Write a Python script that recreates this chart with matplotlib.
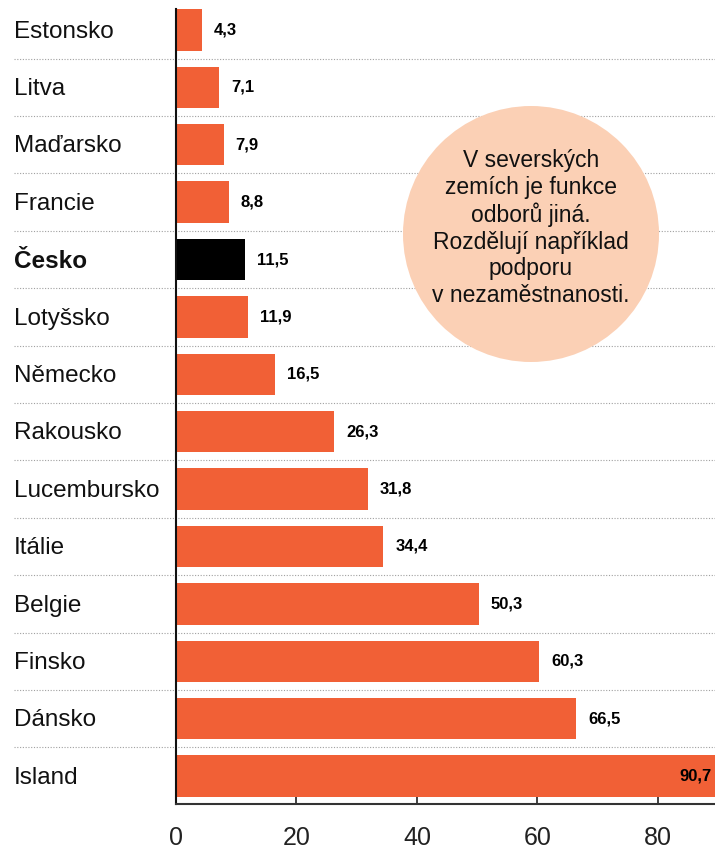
import matplotlib
matplotlib.use("Agg")
import matplotlib.pyplot as plt
import matplotlib.transforms as mtransforms
from matplotlib.patches import Ellipse

countries = ["Estonsko", "Litva", "Maďarsko", "Francie", "Česko", "Lotyšsko",
             "Německo", "Rakousko", "Lucembursko", "Itálie", "Belgie",
             "Finsko", "Dánsko", "Island"]
values = [4.3, 7.1, 7.9, 8.8, 11.5, 11.9, 16.5, 26.3, 31.8, 34.4, 50.3,
          60.3, 66.5, 90.7]
highlight = "Česko"
xticks = [0, 20, 40, 60, 80]
note = "V severských\nzemích je funkce\nodborů jiná.\nRozdělují například\npodporu\nv nezaměstnanosti."

orange = "#F16036"
plt.rcParams['font.family'] = ['Liberation Sans', 'DejaVu Sans']

W, H = 715, 849
fig = plt.figure(figsize=(W / 100, H / 100), dpi=100)
ax = fig.add_axes([176 / W, 45 / H, 1 - 176 / W, (804 - 9) / H])

ypos = list(range(len(countries)))
colors = ["black" if c == highlight else orange for c in countries]
ax.barh(ypos, values, height=0.72, color=colors, zorder=2)

xmax = 89.5
ax.set_xlim(0, xmax)
ax.set_ylim(len(countries) - 1 + 0.488, -0.366)

# dotted separators running under the labels too
for i in range(len(countries) - 1):
    ax.axhline(i + 0.5, xmin=-0.30, xmax=1, color="#a0a0a0", lw=0.8,
               ls=(0, (1, 1.5)), clip_on=False, zorder=1)

lab_tr = mtransforms.blended_transform_factory(fig.transFigure, ax.transData)
for y, c in zip(ypos, countries):
    ax.text(14 / W, y + 0.03, c, transform=lab_tr, ha="left", va="center",
            fontsize=17.5, color="#111111",
            fontweight="bold" if c == highlight else "normal")

num_font = ['Liberation Sans Narrow', 'Liberation Sans', 'DejaVu Sans']
off = mtransforms.offset_copy(ax.transData, fig=fig, x=12, y=0, units="dots")
for y, v in zip(ypos, values):
    s = f"{v:.1f}".replace(".", ",")
    if v > xmax:
        ax.text(0.993, y, s, transform=mtransforms.blended_transform_factory(ax.transAxes, ax.transData),
                ha="right", va="center", fontsize=12, fontweight="bold",
                family=num_font, color="black", zorder=3)
    else:
        ax.text(v, y, s, transform=off, ha="left", va="center", fontsize=12,
                fontweight="bold", family=num_font, color="black", zorder=3)

for side in ["top", "right"]:
    ax.spines[side].set_visible(False)
ax.spines["left"].set_linewidth(1.5)
ax.spines["left"].set_color("#111111")
ax.spines["bottom"].set_linewidth(1.5)
ax.spines["bottom"].set_color("#333333")
ax.set_yticks([])
ax.set_xticks(xticks)
ax.tick_params(axis="x", direction="in", length=8, width=1.3, color="#333333",
               labelsize=18, pad=16, labelcolor="#222222")

# annotation bubble
cx, cy, r = 531, 234, 128
fig.patches.append(Ellipse((cx / W, 1 - cy / H), 2 * r / W, 2 * r / H,
                           transform=fig.transFigure, facecolor="#FBD0B5",
                           edgecolor="none", zorder=5))
fig.text(cx / W, 1 - 228 / H, note, ha="center", va="center", fontsize=16.5,
         linespacing=1.2, color="#111111", zorder=6)

fig.savefig("out.png", dpi=100)
